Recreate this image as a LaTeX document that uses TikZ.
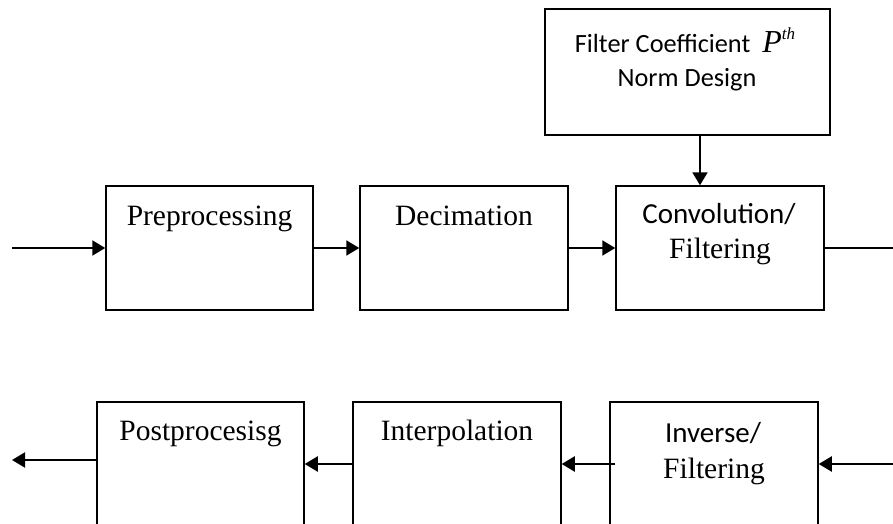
\documentclass[tikz,border=0pt]{standalone}
\usepackage{fontspec}
\setmainfont{Liberation Serif}
\newfontfamily\calibfont{Carlito}
\usetikzlibrary{arrows.meta}
\tikzset{
  blockbox/.style={draw=black, line width=1.5pt, rectangle, inner sep=0pt, minimum height=124pt},
  serlbl/.style={anchor=base, inner sep=0pt, font=\fontsize{29.5}{34}\selectfont},
  callbl/.style={anchor=base, inner sep=0pt, font=\calibfont\fontsize{29}{34}\selectfont},
  toplbl/.style={anchor=base, inner sep=0pt, font=\calibfont\fontsize{26.3}{30}\selectfont},
  arr/.style={line width=2pt, -{Triangle[length=13pt, width=15pt]}},
  plainline/.style={line width=2pt}
}
\begin{document}
\begin{tikzpicture}[x=1pt, y=-1pt]
\clip (0,0) rectangle (893,524);
\fill[white] (0,0) rectangle (893,524);
% top box
\node[blockbox, minimum width=285pt, minimum height=126pt] (top) at (687.5,72) {};
\node[toplbl] (topA) at (685,53) {Filter Coefficient\hspace{12pt}{\rmfamily\itshape\fontsize{32}{32}\selectfont P\raisebox{13pt}{\fontsize{17}{17}\selectfont th}}};
\node[toplbl] (topB) at (687,87) {Norm Design};
% row 1
\node[blockbox, minimum width=207pt] (pre) at (209.5,248) {};
\node[serlbl] (preT) at (209.5,225) {Preprocessing};
\node[blockbox, minimum width=208pt] (dec) at (464,248) {};
\node[serlbl] (decT) at (464,225) {Decimation};
\node[blockbox, minimum width=208pt] (conv) at (720,248) {};
\node[callbl] (convA) at (719,223) {Convolution/};
\node[serlbl] (convB) at (720,258) {Filtering};
% row 2
\node[blockbox, minimum width=207pt] (post) at (200.5,464) {};
\node[serlbl] (postT) at (200.5,440) {Postprocesisg};
\node[blockbox, minimum width=208pt] (interp) at (457,464) {};
\node[serlbl] (interpT) at (457,440) {Interpolation};
\node[blockbox, minimum width=208pt] (inv) at (714,464) {};
\node[callbl] (invA) at (713,442) {Inverse/};
\node[serlbl] (invB) at (714,478) {Filtering};
% connectors
\coordinate (in1) at (12,248);
\coordinate (out1) at (893,248);
\coordinate (ax) at (700,0);
\coordinate (in2) at (893,464);
\coordinate (out2) at (12,460);
\draw[arr] (in1) -- (pre.west);
\draw[arr] (pre.east) -- (dec.west);
\draw[arr] (dec.east) -- (conv.west);
\draw[plainline] (conv.east) -- (out1);
\draw[arr] (top.south -| ax) -- (conv.north -| ax);
\draw[arr] (in2) -- (inv.east);
\draw[arr] ([xshift=6pt]inv.west) -- (interp.east);
\draw[arr] (interp.west) -- (post.east);
\draw[arr] (post.west |- out2) -- (out2);
\end{tikzpicture}
\end{document}
